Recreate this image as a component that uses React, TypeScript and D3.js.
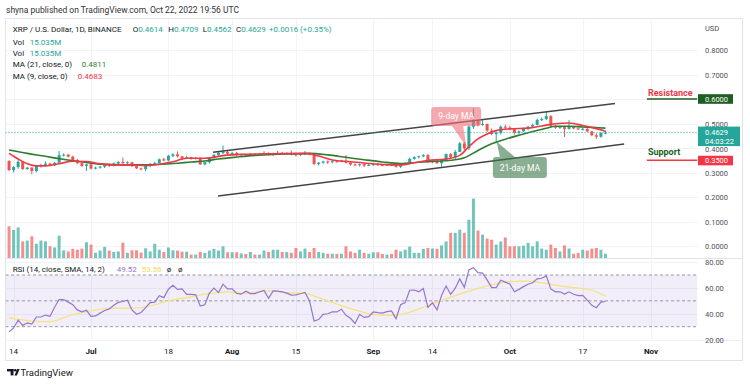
import React from 'react';
import * as d3 from 'd3';

// first candle is Jun 13 2022 (UTC), one candle per day
const START = Date.UTC(2022, 5, 13);
const firstOpen = 0.347;

const closes = [
  0.310, 0.322, 0.344, 0.314, 0.320, 0.306, 0.328, 0.331, 0.336, 0.329,
  0.340, 0.371, 0.373, 0.365, 0.350, 0.338, 0.327, 0.333, 0.316, 0.320,
  0.324, 0.333, 0.329, 0.337, 0.343, 0.338, 0.342, 0.326, 0.317, 0.314,
  0.326, 0.336, 0.339, 0.354, 0.349, 0.368, 0.374, 0.366, 0.358, 0.362,
  0.356, 0.359, 0.333, 0.342, 0.360, 0.372, 0.381, 0.384, 0.377, 0.380,
  0.372, 0.374, 0.371, 0.376, 0.373, 0.377, 0.380, 0.374, 0.378, 0.380,
  0.377, 0.379, 0.374, 0.371, 0.375, 0.377, 0.374, 0.335, 0.340, 0.345,
  0.343, 0.346, 0.345, 0.348, 0.340, 0.333, 0.330, 0.334, 0.328, 0.331,
  0.334, 0.331, 0.329, 0.332, 0.330, 0.323, 0.334, 0.337, 0.356, 0.363,
  0.366, 0.371, 0.344, 0.348, 0.338, 0.352, 0.375, 0.362, 0.384, 0.419,
  0.399, 0.487, 0.512, 0.494, 0.498, 0.471, 0.457, 0.462, 0.487, 0.483,
  0.478, 0.462, 0.468, 0.478, 0.487, 0.494, 0.515, 0.518, 0.530, 0.490,
  0.483, 0.485, 0.478, 0.486, 0.480, 0.477, 0.478, 0.468, 0.452, 0.446,
  0.4614, 0.4629,
];

const highs = [
  0.350, 0.326, 0.350, 0.346, 0.323, 0.322, 0.330, 0.336, 0.345, 0.340,
  0.343, 0.388, 0.378, 0.376, 0.368, 0.356, 0.340, 0.336, 0.338, 0.324,
  0.327, 0.335, 0.336, 0.340, 0.346, 0.361, 0.346, 0.344, 0.328, 0.320,
  0.329, 0.338, 0.343, 0.357, 0.360, 0.372, 0.379, 0.386, 0.368, 0.368,
  0.364, 0.363, 0.361, 0.345, 0.362, 0.376, 0.386, 0.410, 0.392, 0.384,
  0.384, 0.378, 0.377, 0.380, 0.378, 0.380, 0.387, 0.382, 0.381, 0.388,
  0.384, 0.383, 0.390, 0.382, 0.378, 0.388, 0.380, 0.376, 0.343, 0.348,
  0.349, 0.350, 0.350, 0.352, 0.371, 0.343, 0.337, 0.337, 0.340, 0.336,
  0.337, 0.338, 0.333, 0.334, 0.335, 0.336, 0.336, 0.340, 0.360, 0.366,
  0.369, 0.375, 0.376, 0.352, 0.352, 0.355, 0.378, 0.380, 0.392, 0.425,
  0.425, 0.492, 0.562, 0.515, 0.518, 0.500, 0.480, 0.468, 0.492, 0.495,
  0.490, 0.480, 0.472, 0.483, 0.490, 0.500, 0.520, 0.524, 0.548, 0.534,
  0.494, 0.490, 0.490, 0.514, 0.489, 0.484, 0.482, 0.487, 0.470, 0.460,
  0.465, 0.4709,
];

const lows = [
  0.305, 0.300, 0.315, 0.311, 0.311, 0.293, 0.300, 0.320, 0.328, 0.325,
  0.327, 0.337, 0.365, 0.361, 0.346, 0.335, 0.322, 0.306, 0.312, 0.313,
  0.316, 0.318, 0.322, 0.325, 0.333, 0.334, 0.335, 0.322, 0.314, 0.309,
  0.305, 0.322, 0.333, 0.336, 0.346, 0.345, 0.362, 0.362, 0.350, 0.355,
  0.352, 0.353, 0.331, 0.329, 0.337, 0.356, 0.368, 0.374, 0.372, 0.370,
  0.366, 0.368, 0.366, 0.369, 0.370, 0.370, 0.373, 0.370, 0.368, 0.375,
  0.373, 0.374, 0.370, 0.366, 0.368, 0.372, 0.370, 0.330, 0.328, 0.336,
  0.335, 0.337, 0.340, 0.343, 0.337, 0.328, 0.327, 0.324, 0.322, 0.326,
  0.327, 0.327, 0.326, 0.327, 0.326, 0.320, 0.318, 0.330, 0.335, 0.352,
  0.357, 0.362, 0.338, 0.338, 0.335, 0.324, 0.350, 0.357, 0.355, 0.383,
  0.390, 0.392, 0.478, 0.488, 0.490, 0.465, 0.452, 0.419, 0.455, 0.478,
  0.474, 0.455, 0.455, 0.466, 0.472, 0.483, 0.492, 0.510, 0.514, 0.486,
  0.478, 0.479, 0.445, 0.475, 0.476, 0.473, 0.472, 0.464, 0.448, 0.437,
  0.442, 0.4562,
];

// volume, millions
const volumes = [
  111, 98, 107, 58, 61, 76, 50, 61, 58, 41,
  37, 78, 27, 23, 32, 29, 33, 55, 47, 18,
  26, 39, 26, 21, 23, 54, 18, 27, 27, 19,
  34, 23, 50, 29, 21, 37, 27, 26, 22, 22,
  12, 12, 21, 18, 26, 32, 26, 41, 20, 20,
  20, 16, 14, 21, 12, 12, 26, 21, 29, 29,
  21, 21, 18, 35, 23, 33, 21, 35, 21, 18,
  15, 15, 14, 15, 41, 23, 18, 29, 18, 15,
  20, 20, 14, 12, 14, 29, 23, 29, 40, 18,
  18, 32, 35, 33, 32, 44, 58, 88, 88, 99,
  88, 134, 208, 96, 82, 68, 64, 47, 58, 72,
  41, 41, 41, 43, 53, 41, 58, 33, 29, 47,
  35, 23, 44, 33, 15, 18, 29, 26, 33, 35,
  29, 15,
];

const rsi = [
  26, 29, 35, 31, 33, 32, 37.5, 37.5, 39, 38,
  45, 51, 51, 49, 47, 43, 41.5, 42.7, 38, 38.3,
  40.5, 42.5, 43.8, 46.6, 48.8, 49.5, 50.5, 43, 39.6, 41,
  44.7, 48.6, 49, 54, 52.5, 59, 62, 58.9, 59.3, 55,
  55, 54.7, 46, 47, 56, 59.8, 56.4, 62.9, 59.3, 59.3,
  55.8, 55.2, 57.5, 55.6, 55.6, 57, 58, 52, 57.7, 57.5,
  57, 56, 54.5, 54.7, 55.5, 56.5, 50, 34.4, 35.5, 39.6,
  40, 41.4, 41.4, 43.5, 38.8, 36.5, 32.5, 39.6, 37.2, 37.8,
  41.4, 40.9, 40.5, 41.7, 42.2, 36.2, 47, 48.6, 58.2, 58.4,
  57, 59.5, 45, 48.5, 43, 54.3, 61.5, 55, 59.8, 67,
  60.5, 74, 75.7, 71.9, 71.5, 66.2, 60.2, 60.2, 66, 64.5,
  63, 57, 58.9, 61, 62.9, 64, 67, 67.5, 69.3, 59.2,
  57, 57, 55.3, 57, 55.1, 54, 54.3, 50.5, 46.5, 44.7,
  49, 49.52,
];

// [candle index, value]
const rsiSma: [number, number][] = [
  [0, 37], [2, 35.7], [5, 34.4], [9, 33.9], [13, 38.3], [16, 40.9], [20, 43.5],
  [24, 44.3], [27, 44.3], [31, 46], [35, 50], [39, 52.5], [43, 55.1], [48, 56.9],
  [52, 56], [57, 57.7], [61, 56.4], [65, 55.8], [68, 52.5], [72, 47.5], [76, 43],
  [80, 39.5], [84, 38.8], [87, 40.2], [91, 45], [94, 49], [98, 54], [102, 58.5],
  [105, 61.5], [109, 64.5], [113, 65.2], [116, 64.5], [120, 62.2], [124, 60.3],
  [127, 59], [129, 57], [131, 53.56],
];

const ma21: [number, number][] = [
  [0, 0.392], [4, 0.378], [8, 0.366], [11, 0.356], [15, 0.346], [20, 0.334],
  [25, 0.331], [30, 0.331], [34, 0.334], [37, 0.338], [40, 0.343], [43, 0.347],
  [46, 0.355], [50, 0.363], [54, 0.370], [58, 0.374], [62, 0.376], [66, 0.378],
  [70, 0.372], [74, 0.362], [78, 0.352], [82, 0.343], [86, 0.337], [90, 0.342],
  [94, 0.346], [97, 0.350], [100, 0.360], [103, 0.390], [106, 0.417], [109, 0.436],
  [112, 0.452], [115, 0.467], [118, 0.481], [120, 0.489], [123, 0.489], [126, 0.486],
  [129, 0.483], [131, 0.4811],
];

const ma9: [number, number][] = [
  [0, 0.378], [2, 0.355], [4, 0.336], [6, 0.327], [8, 0.327], [11, 0.336],
  [14, 0.346], [17, 0.345], [20, 0.336], [23, 0.331], [27, 0.331], [30, 0.328],
  [33, 0.334], [36, 0.344], [39, 0.358], [43, 0.358], [47, 0.369], [51, 0.374],
  [56, 0.376], [60, 0.377], [64, 0.378], [66, 0.377], [68, 0.367], [71, 0.351],
  [75, 0.344], [79, 0.337], [83, 0.332], [86, 0.331], [89, 0.340], [92, 0.349],
  [96, 0.355], [99, 0.370], [101, 0.405], [103, 0.437], [105, 0.457], [107, 0.471],
  [110, 0.478], [114, 0.481], [117, 0.490], [120, 0.499], [123, 0.502], [126, 0.492],
  [129, 0.479], [131, 0.4683],
];

const priceTicks = [0, 0.1, 0.2, 0.3, 0.4, 0.5, 0.6, 0.7, 0.8];
const rsiTicks = [20, 40, 60, 80];
const rsiLevels = [70, 50, 30];
const timeTicks = [
  { date: '2022-06-14', label: '14', month: false },
  { date: '2022-07-01', label: 'Jul', month: true },
  { date: '2022-07-18', label: '18', month: false },
  { date: '2022-08-01', label: 'Aug', month: true },
  { date: '2022-08-15', label: '15', month: false },
  { date: '2022-09-01', label: 'Sep', month: true },
  { date: '2022-09-14', label: '14', month: false },
  { date: '2022-10-01', label: 'Oct', month: true },
  { date: '2022-10-17', label: '17', month: false },
  { date: '2022-11-01', label: 'Nov', month: true },
];

// trend channel, [candle index, price]
const upperChannel: [number, number][] = [[44.8, 0.383], [133.1, 0.582]];
const lowerChannel: [number, number][] = [[45.9, 0.204], [135.1, 0.416]];

const resistance = 0.6;
const support = 0.35;
const levelFrom = 140.1;
const lastPrice = 0.4629;
const countdown = '04:03:22';

const notes = [
  { text: '9-day MA', at: [98.2, 0.5286], tip: [100.5, 0.404], w: 50, h: 19, fill: '#f0707a', base: [-4, 7], side: 'bottom' },
  { text: '21-day MA', at: [112.2, 0.320], tip: [107.1, 0.4265], w: 54, h: 21, fill: '#3b7a4a', base: [-20, -5], side: 'top' },
];

const FONT = 'Roboto, "Liberation Sans", Arial, sans-serif';
const UP = '#26a69a';
const DOWN = '#ef5350';
const TEXT = '#50535e';

const L = 5.5, R = 697.5, FR = 742.5;
const TOP = 18.5, MAIN_B = 258.5, RSI_B = 340.5, BOT = 360.5;

export default function App() {
  const x = d3.scaleLinear().domain([0, 141]).range([9.05, 651]);
  const yP = d3.scaleLinear().domain([0, 0.8]).range([246, 50]);
  const yV = d3.scaleLinear().domain([0, 210]).range([258, 198]);
  const yR = d3.scaleLinear().domain([20, 80]).range([339.6, 262.1]);
  const day = (s: string) => (Date.parse(s) - START) / 864e5;

  const candles = closes.map((c, i) => ({
    i, o: i === 0 ? firstOpen : closes[i - 1], h: highs[i], l: lows[i], c, v: volumes[i],
  }));

  const curve = d3.line<[number, number]>().x(d => x(d[0])).y(d => yP(d[1])).curve(d3.curveMonotoneX);
  const rsiLine = d3.line<number>().x((_, i) => x(i)).y(d => yR(d));
  const smaLine = d3.line<[number, number]>().x(d => x(d[0])).y(d => yR(d[1])).curve(d3.curveMonotoneX);
  const straight = d3.line<[number, number]>().x(d => x(d[0])).y(d => yP(d[1]));

  const bw = 3;
  const priceBoxTop = yP(lastPrice) - 6;
  const priceBoxH = 19.5;

  return (
    <svg width={750} height={385} style={{ position: 'absolute', left: 0, top: 0, background: '#fff' }} fontFamily={FONT}>
      <defs>
        <clipPath id="main"><rect x={L} y={TOP} width={R - L} height={MAIN_B - TOP} /></clipPath>
        <clipPath id="rsi"><rect x={L} y={MAIN_B} width={R - L} height={RSI_B - MAIN_B} /></clipPath>
      </defs>
      <rect width={750} height={385} fill="#fff" />

      <text x={6} y={13} fontSize={8.5} fill="#333">shyna published on TradingView.com, Oct 22, 2022 19:56 UTC</text>

      {/* frame */}
      <rect x={L} y={TOP} width={FR - L} height={BOT - TOP} fill="none" stroke="#e0e3eb" />
      <line x1={L} x2={FR} y1={MAIN_B} y2={MAIN_B} stroke="#e0e3eb" />
      <line x1={L} x2={FR} y1={RSI_B} y2={RSI_B} stroke="#eceef4" />

      {/* grid */}
      {timeTicks.map(t => (
        <line key={t.date} x1={Math.round(x(day(t.date))) + 0.5} x2={Math.round(x(day(t.date))) + 0.5}
          y1={TOP} y2={RSI_B} stroke="#f0f3fa" />
      ))}
      {priceTicks.map(p => (
        <line key={p} x1={L} x2={R} y1={Math.round(yP(p)) + 0.5} y2={Math.round(yP(p)) + 0.5} stroke="#f0f3fa" />
      ))}
      {rsiTicks.map(v => (
        <line key={v} x1={L} x2={R} y1={Math.round(yR(v)) + 0.5} y2={Math.round(yR(v)) + 0.5} stroke="#f0f3fa" />
      ))}

      {/* main pane */}
      <g clipPath="url(#main)">
        {candles.map(d => (
          <rect key={'v' + d.i} x={x(d.i) - bw / 2} y={yV(d.v)} width={bw} height={yV(0) - yV(d.v)}
            fill={d.c >= d.o ? UP : DOWN} fillOpacity={0.65} />
        ))}
        {candles.map(d => {
          const col = d.c >= d.o ? UP : DOWN;
          const top = yP(Math.max(d.o, d.c));
          const bot = yP(Math.min(d.o, d.c));
          return (
            <g key={'c' + d.i}>
              <line x1={x(d.i)} x2={x(d.i)} y1={yP(d.h)} y2={yP(d.l)} stroke={col} strokeWidth={1} />
              <rect x={x(d.i) - bw / 2} y={top} width={bw} height={Math.max(1, bot - top)} fill={col} />
            </g>
          );
        })}
        <path d={curve(ma21) ?? ''} fill="none" stroke="#2e7d32" strokeWidth={1.6} />
        <path d={curve(ma9) ?? ''} fill="none" stroke="#f23645" strokeWidth={1.6} />
        <path d={straight(upperChannel) ?? ''} fill="none" stroke="#444" strokeWidth={1.5} />
        <path d={straight(lowerChannel) ?? ''} fill="none" stroke="#444" strokeWidth={1.5} />
        <line x1={L} x2={R} y1={yP(lastPrice)} y2={yP(lastPrice)} stroke={UP} strokeDasharray="1 2" />

        {notes.map(n => {
          const cx = x(n.at[0]);
          const cy = yP(n.at[1]);
          const by = n.side === 'bottom' ? cy + n.h / 2 : cy - n.h / 2;
          const tail = `M${cx + n.base[0]},${by} L${x(n.tip[0])},${yP(n.tip[1])} L${cx + n.base[1]},${by} Z`;
          return (
            <g key={n.text} opacity={0.6}>
              <path d={tail} fill={n.fill} />
              <rect x={cx - n.w / 2} y={cy - n.h / 2} width={n.w} height={n.h} rx={3} fill={n.fill} />
            </g>
          );
        })}
        {notes.map(n => (
          <text key={n.text + 't'} x={x(n.at[0])} y={yP(n.at[1]) + 3} textAnchor="middle" fontSize={8.5} fill="#fff">{n.text}</text>
        ))}

        <line x1={x(levelFrom)} x2={R} y1={yP(resistance)} y2={yP(resistance)} stroke="#1b5e20" strokeWidth={1.5} />
        <line x1={x(levelFrom)} x2={R} y1={yP(support)} y2={yP(support)} stroke="#f23645" strokeWidth={1.5} />
        <text x={x(levelFrom) + 1} y={yP(resistance) - 3.5} fontSize={9} fontWeight="bold" fill="#f23645">Resistance</text>
        <text x={x(levelFrom) + 1} y={yP(support) - 5} fontSize={9} fontWeight="bold" fill="#1b5e20">Support</text>
      </g>

      {/* legend */}
      <g fontSize={8} fill="#131722">
        <text x={12.7} y={31.5}>XRP / U.S. Dollar, 1D, BINANCE</text>
        <text x={132.7} y={31.5}>O<tspan fill={UP}>0.4614</tspan></text>
        <text x={168.3} y={31.5}>H<tspan fill={UP}>0.4709</tspan></text>
        <text x={202.7} y={31.5}>L<tspan fill={UP}>0.4562</tspan></text>
        <text x={236} y={31.5}>C<tspan fill={UP}>0.4629</tspan></text>
        <text x={269} y={31.5} fill={UP}>+0.0016 (+0.35%)</text>
        <text x={12.7} y={44.5}>Vol</text>
        <text x={29.7} y={44.5} fill={UP}>15.035M</text>
        <text x={12.7} y={55.5}>Vol</text>
        <text x={29.7} y={55.5} fill={UP}>15.035M</text>
        <text x={12.7} y={67}>MA (21, close, 0)</text>
        <text x={81.7} y={67} fill="#2e7d32">0.4811</text>
        <text x={12.7} y={79}>MA (9, close, 0)</text>
        <text x={77.7} y={79} fill="#f23645">0.4683</text>
      </g>

      {/* RSI pane */}
      <g clipPath="url(#rsi)">
        <rect x={L} y={yR(70)} width={R - L} height={yR(30) - yR(70)} fill="#7e57c2" fillOpacity={0.1} />
        {rsiLevels.map(v => (
          <line key={v} x1={L} x2={R} y1={yR(v)} y2={yR(v)} stroke="#9598a1" strokeDasharray="3 2.5" />
        ))}
        <path d={smaLine(rsiSma) ?? ''} fill="none" stroke="#f5e27a" strokeWidth={1.2} />
        <path d={rsiLine(rsi) ?? ''} fill="none" stroke="#9575cd" strokeWidth={1.2} />
      </g>
      <g fontSize={8}>
        <text x={12.7} y={272} fill="#131722">RSI (14, close, SMA, 14, 2)</text>
        <text x={116.7} y={272} fill="#9575cd">49.52</text>
        <text x={141.7} y={272} fill="#f0d860">53.56</text>
        <text x={166.7} y={272} fill="#131722">ø</text>
        <text x={178} y={272} fill="#131722">ø</text>
      </g>

      {/* price axis; a tick label under the last-price badge is nudged just below it */}
      <g fontSize={7.5} fill={TEXT}>
        <text x={705} y={31}>USD</text>
        {priceTicks.map(p => {
          const ty = yP(p) + 3;
          const hidden = ty > priceBoxTop && ty - 6 < priceBoxTop + priceBoxH;
          return <text key={p} x={705} y={hidden ? priceBoxTop + priceBoxH + 5.6 : ty}>{p.toFixed(4)}</text>;
        })}
        {rsiTicks.map(v => (
          <text key={v} x={705} y={yR(v) + 3}>{v.toFixed(2)}</text>
        ))}
      </g>
      <rect x={698} y={yP(resistance) - 4.8} width={35} height={9.6} fill="#1e5e22" />
      <text x={705} y={yP(resistance) + 2.8} fontSize={7.5} fill="#fff">{resistance.toFixed(4)}</text>
      <rect x={698} y={yP(support) - 4.5} width={35} height={9.6} fill="#f23645" />
      <text x={705} y={yP(support) + 3} fontSize={7.5} fill="#fff">{support.toFixed(4)}</text>
      <rect x={698} y={priceBoxTop} width={42} height={priceBoxH} fill={UP} />
      <text x={705} y={yP(lastPrice) + 2.6} fontSize={7.5} fill="#fff">{lastPrice.toFixed(4)}</text>
      <text x={705} y={yP(lastPrice) + 11.2} fontSize={7.5} fill="#fff">{countdown}</text>

      {/* time axis */}
      <g fontSize={8} fill="#131722" textAnchor="middle">
        {timeTicks.map(t => (
          <text key={t.date} x={x(day(t.date))} y={354} fontWeight={t.month ? 'bold' : 'normal'}>{t.label}</text>
        ))}
      </g>

      {/* logo */}
      <g fill="#131722">
        <rect x={7} y={369} width={6.5} height={2.4} />
        <rect x={10.6} y={369} width={2.9} height={6.4} />
        <circle cx={15.3} cy={370.3} r={1.3} />
        <path d="M17.2,369 L19.6,369 L16.9,375.4 L14.5,375.4 Z" />
        <text x={20.5} y={376} fontSize={9.5} fill="#131722">TradingView</text>
      </g>
    </svg>
  );
}
